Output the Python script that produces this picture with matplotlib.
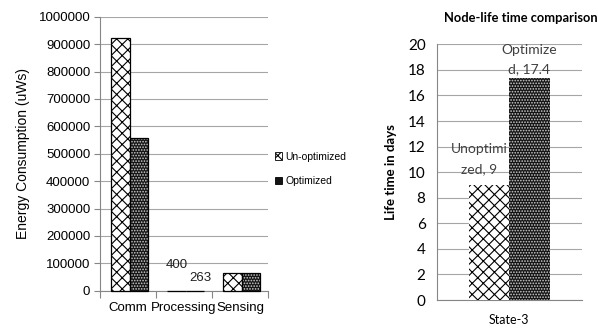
import matplotlib
matplotlib.use("Agg")
import matplotlib.pyplot as plt
import numpy as np
from matplotlib.patches import Patch

# ---- data ----
categories = ["Comm", "Processing", "Sensing"]
unoptimized = [921000, 400, 65000]
optimized = [558000, 263, 65000]
series_names = ["Un-optimized", "Optimized"]
energy_ticks = list(range(0, 1000001, 100000))

life_category = ["State-3"]
life_unopt = [9]
life_opt = [17.4]
life_names = ["Unoptimized", "Optimized"]
life_ticks = list(range(0, 21, 2))

W, H = 598, 329
fig = plt.figure(figsize=(W / 100, H / 100), dpi=100)
plt.rcParams['hatch.linewidth'] = 0.8

grid_c = "#a6a6a6"
axis_c = "#868686"
dark = "#141414"
dot_c = "#d0d0d0"
opt_hatch = "......"

# ---------------- left chart ----------------
axL = fig.add_axes([100 / W, (H - 290.7) / H, 168 / W, 274 / H])
x = np.arange(len(categories))
bw = 0.33
off = 0.03
b1 = axL.bar(x - bw / 2 + off, unoptimized, bw, facecolor="white", edgecolor="black",
             hatch="xxx", linewidth=0.9, zorder=3)
axL.bar(x + bw / 2 + off, optimized, bw, facecolor=dark, edgecolor=dot_c,
        hatch=opt_hatch, linewidth=0, zorder=3)
b2 = axL.bar(x + bw / 2 + off, optimized, bw, fill=False, edgecolor="black", linewidth=0.9, zorder=4)
for p in list(b1) + list(b2):
    p.set_clip_on(False)
axL.set_xlim(-0.5, 2.5)
axL.set_ylim(0, 1000000)
axL.set_yticks(energy_ticks)
axL.set_yticklabels([str(t) for t in energy_ticks], fontsize=9.5, family="Liberation Sans")
axL.set_xticks(x)
axL.set_xticklabels(categories, fontsize=9.5, family="Liberation Sans")
axL.tick_params(axis="x", length=0, pad=8)
axL.set_xticks([-0.5, 0.5, 1.5, 2.5], minor=True)
axL.tick_params(axis="x", which="minor", length=5, color=axis_c, width=0.8)
axL.tick_params(axis="y", length=4, color=axis_c, width=0.8, pad=3)
axL.yaxis.grid(True, color=grid_c, linewidth=0.8, zorder=0)
axL.set_axisbelow(True)
for s in ["top", "right"]:
    axL.spines[s].set_visible(False)
for s in ["left", "bottom"]:
    axL.spines[s].set_color(axis_c)
    axL.spines[s].set_linewidth(0.8)
axL.set_ylabel("Energy Consumption (uWs)", fontsize=10, family="Liberation Sans", labelpad=6)

# processing labels
axL.annotate(str(unoptimized[1]), (x[1] - bw / 2 + off, unoptimized[1]), xytext=(0, 20),
             textcoords="offset pixels", ha="center", va="bottom", fontsize=9.5,
             family="Liberation Sans", color="#202020")
axL.annotate(str(optimized[1]), (x[1] + bw / 2 + off + 0.1, optimized[1]), xytext=(0, 7),
             textcoords="offset pixels", ha="center", va="bottom", fontsize=9.5,
             family="Liberation Sans", color="#202020")

# legend
h1 = Patch(facecolor="white", edgecolor="black", hatch="xxx", linewidth=0.6)
h2 = Patch(facecolor=dark, edgecolor="black", linewidth=0.6)
fig.legend([h1, h2], series_names, loc="center left", bbox_to_anchor=(275 / W, 1 - 169 / H),
           frameon=False, prop={"family": "Liberation Sans", "size": 7.5},
           handlelength=0.7, handleheight=0.7, handletextpad=0.3, labelspacing=1.4,
           borderpad=0, borderaxespad=0)

# ---------------- right chart ----------------
axR = fig.add_axes([436.7 / W, (H - 300) / H, 145 / W, 255.7 / H])
xr = np.arange(len(life_category))
bw2 = 0.28
axR.bar(xr - bw2 / 2, life_unopt, bw2, facecolor="white", edgecolor="black",
        hatch="xxx", linewidth=0, zorder=3)
axR.bar(xr + bw2 / 2, life_opt, bw2, facecolor=dark, edgecolor=dot_c,
        hatch=opt_hatch, linewidth=0, zorder=3)
axR.set_xlim(-0.5, 0.5)
axR.set_ylim(0, 20)
axR.set_yticks(life_ticks)
axR.set_yticklabels([str(t) for t in life_ticks], fontsize=11, family="Lato")
axR.set_xticks(xr)
axR.set_xticklabels(life_category, fontsize=9, family="Lato")
axR.tick_params(axis="x", length=0, pad=10)
axR.tick_params(axis="y", length=0, pad=8)
axR.yaxis.grid(True, color=grid_c, linewidth=0.8, zorder=0)
axR.set_axisbelow(True)
for s in ["top", "right"]:
    axR.spines[s].set_visible(False)
for s in ["left", "bottom"]:
    axR.spines[s].set_color(axis_c)
    axR.spines[s].set_linewidth(0.8)
axR.set_ylabel("Life time in days", fontsize=9.5, family="Lato", fontweight="bold", labelpad=8)
fig.text(521 / W, 1 - 18 / H, "Node-life time comparison", ha="center", va="center",
         fontsize=9.3, family="Lato", fontweight="bold")

axR.annotate("Unoptimi\nzed, %g" % life_unopt[0], (xr[0] - bw2 / 2, life_unopt[0]),
             xytext=(-10, 10), textcoords="offset pixels", ha="center", va="bottom",
             fontsize=10, family="Lato", color="#404040", linespacing=1.75)
axR.annotate("Optimize\nd, %g" % life_opt[0], (xr[0] + bw2 / 2, life_opt[0]),
             xytext=(0, 2), textcoords="offset pixels", ha="center", va="bottom",
             fontsize=10, family="Lato", color="#404040", linespacing=1.75)

fig.savefig("out.png", dpi=100)
